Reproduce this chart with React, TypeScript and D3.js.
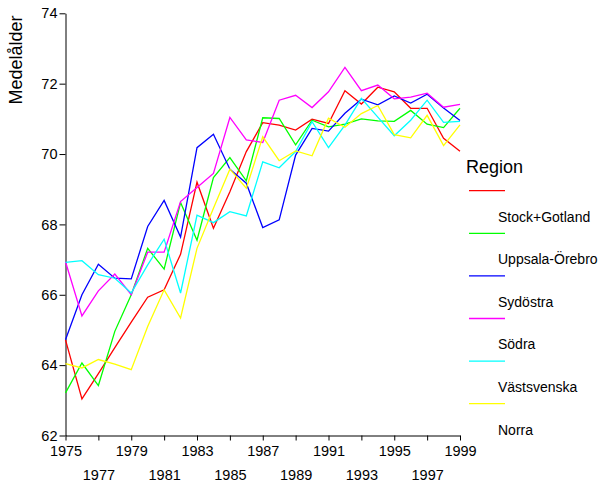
import React, { useRef, useEffect } from 'react';
import * as d3 from 'd3';

const years: number[] = d3.range(1975, 2000);

const regions: string[] = ['Stock+Gotland', 'Uppsala-Örebro', 'Sydöstra', 'Södra', 'Västsvenska', 'Norra'];
const colors: string[] = ['#ff0000', '#00ff00', '#0000ff', '#ff00ff', '#00ffff', '#ffff00'];

const stockGotland = [64.72, 63.04, 63.76, 64.5, 65.22, 65.93, 66.14, 67.15, 69.2, 67.89, 68.93, 70.07, 70.89, 70.82, 70.68, 70.99, 70.87, 71.8, 71.42, 71.9, 71.77, 71.3, 71.3, 70.45, 70.08];
const uppsalaOrebro = [63.21, 64.06, 63.42, 64.96, 66.0, 67.32, 66.73, 68.62, 67.55, 69.33, 69.9, 69.24, 71.03, 71.01, 70.26, 70.96, 70.77, 70.85, 71.0, 70.94, 70.93, 71.24, 70.85, 70.75, 71.3];
const sydostra = [64.72, 66.0, 66.87, 66.47, 66.45, 67.94, 68.68, 67.64, 70.18, 70.56, 69.57, 69.17, 67.91, 68.13, 69.97, 70.73, 70.65, 71.16, 71.56, 71.4, 71.65, 71.45, 71.7, 71.31, 70.95];
const sodra = [66.94, 65.4, 66.11, 66.59, 66.0, 67.21, 67.21, 68.65, 69.05, 69.45, 71.04, 70.4, 70.33, 71.53, 71.67, 71.32, 71.77, 72.46, 71.8, 71.96, 71.57, 71.62, 71.73, 71.33, 71.41];
const vastsvenska = [66.92, 66.97, 66.57, 66.47, 66.05, 66.85, 67.58, 66.05, 68.26, 68.05, 68.36, 68.24, 69.78, 69.61, 70.07, 70.92, 70.18, 70.82, 71.58, 71.05, 70.52, 70.96, 71.53, 70.9, 70.93];
const norra = [64.04, 63.92, 64.16, 64.03, 63.87, 65.1, 66.14, 65.34, 67.32, 68.46, 69.57, 69.03, 70.49, 69.81, 70.09, 69.95, 71.02, 70.76, 71.15, 71.38, 70.55, 70.46, 71.1, 70.24, 70.83];

const series: number[][] = [stockGotland, uppsalaOrebro, sydostra, sodra, vastsvenska, norra];

const yTicks: number[] = [62, 64, 66, 68, 70, 72, 74];
const xTicks: number[] = d3.range(1975, 2000, 2);

const FONT = '"Liberation Sans", Arial, sans-serif';

const App: React.FC = () => {
    const svgRef = useRef<SVGSVGElement | null>(null);

    useEffect(() => {
        const svg = d3.select(svgRef.current);
        svg.selectAll('*').remove();

        const xScale = d3.scaleLinear().domain([1975, 1999]).range([65.5, 460]);
        const yScale = d3.scaleLinear().domain([62, 74]).range([435.5, 13.3]);

        // y axis
        const yAxis = svg.append('g')
            .attr('transform', 'translate(65.5,0)')
            .call(d3.axisLeft(yScale).tickValues(yTicks).tickSize(6).tickSizeOuter(0).tickPadding(2).tickFormat(d3.format('d')));
        yAxis.selectAll('text').style('font-size', '14.5px').style('font-family', FONT).attr('fill', '#000');
        yAxis.selectAll('line,path').attr('stroke', '#000');

        // x axis, labels alternating on two rows
        const xAxis = svg.append('g')
            .attr('transform', 'translate(0,435.5)')
            .call(d3.axisBottom(xScale).tickValues(xTicks).tickSize(5).tickSizeOuter(0).tickPadding(5).tickFormat(d3.format('d')));
        xAxis.selectAll('text')
            .style('font-size', '14.5px')
            .style('font-family', FONT)
            .attr('fill', '#000')
            .attr('dy', (_d, i) => (i % 2 === 0 ? '0.71em' : '2.4em'));
        xAxis.selectAll('line,path').attr('stroke', '#000');

        // y title
        svg.append('text')
            .attr('transform', 'translate(22,60) rotate(-90)')
            .attr('text-anchor', 'middle')
            .style('font-family', FONT)
            .style('font-size', '18px')
            .text('Medelålder');

        // lines
        const line = d3.line<number>()
            .x((_d, i) => xScale(years[i]))
            .y(d => yScale(d));

        series.forEach((values, i) => {
            svg.append('path')
                .datum(values)
                .attr('d', line)
                .attr('fill', 'none')
                .attr('stroke', colors[i])
                .attr('stroke-width', 1.3);
        });

        // legend
        svg.append('text')
            .attr('x', 466)
            .attr('y', 173)
            .style('font-family', FONT)
            .style('font-size', '18px')
            .text('Region');

        regions.forEach((name, i) => {
            const y0 = 190.7 + i * 42.6;
            svg.append('line')
                .attr('x1', 469)
                .attr('x2', 505)
                .attr('y1', y0)
                .attr('y2', y0)
                .attr('stroke', colors[i])
                .attr('stroke-width', 1.3);
            svg.append('text')
                .attr('x', 498)
                .attr('y', y0 + 26)
                .attr('dy', '0.35em')
                .style('font-family', FONT)
                .style('font-size', '14px')
                .text(name);
        });
    }, []);

    return (
        <svg ref={svgRef} width={602} height={484} style={{ position: 'absolute', left: 0, top: 0, background: '#fff' }}></svg>
    );
};

export default App;
